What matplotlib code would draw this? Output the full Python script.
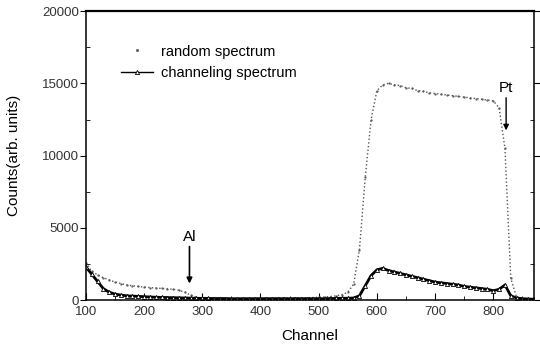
import numpy as np
import matplotlib
matplotlib.use('Agg')
import matplotlib.pyplot as plt
from matplotlib.ticker import MultipleLocator
from matplotlib.lines import Line2D

plt.rcParams['font.family'] = ['Liberation Sans', 'DejaVu Sans']

channel = list(range(100, 880, 10))

random_counts = [2600, 2000, 1750, 1550, 1400, 1250, 1150, 1050, 1000, 950,
                 900, 870, 840, 810, 780, 750, 680, 550, 350, 180,
                 120, 110, 100, 100, 100, 100, 110, 110, 110, 120,
                 120, 130, 130, 140, 140, 150, 150, 160, 170, 180,
                 200, 220, 250, 300, 380, 550, 1100, 3500, 8500, 12500,
                 14500, 14900, 15000, 14900, 14850, 14700, 14650, 14500, 14450, 14350,
                 14300, 14250, 14200, 14150, 14100, 14050, 14000, 13950, 13900, 13850,
                 13800, 13300, 10500, 1500, 200, 100, 80, 60]

channeling_counts = [2300, 1800, 1300, 800, 550, 420, 350, 300, 280, 260,
                     240, 220, 200, 190, 180, 170, 160, 150, 140, 130,
                     120, 120, 110, 110, 110, 100, 100, 100, 100, 100,
                     100, 100, 100, 100, 100, 100, 100, 100, 100, 100,
                     100, 100, 110, 120, 130, 130, 150, 300, 1000, 1700,
                     2100, 2200, 2050, 1950, 1850, 1750, 1650, 1550, 1450, 1350,
                     1250, 1200, 1150, 1100, 1050, 950, 900, 850, 800, 750,
                     650, 750, 1050, 300, 150, 100, 80, 60]

fig = plt.figure(figsize=(5.4, 3.49), dpi=100)
ax = fig.add_axes([0.159, 0.140, 0.830, 0.828])

ax.plot(channel, random_counts, linestyle=':', color='#555555', lw=1.0,
        marker='.', markersize=1.2)
ax.plot(channel, channeling_counts, linestyle='-', color='black', lw=2.0,
        marker='^', markersize=3, markerfacecolor='white', markeredgewidth=0.6)

ax.set_xlim(100, 870)
ax.set_ylim(0, 20000)
ax.xaxis.set_major_locator(MultipleLocator(100))
ax.xaxis.set_minor_locator(MultipleLocator(50))
ax.yaxis.set_major_locator(MultipleLocator(5000))
ax.yaxis.set_minor_locator(MultipleLocator(2500))
ax.tick_params(which='major', direction='out', length=4, labelsize=9.5,
               labelcolor='#333333', pad=1)
ax.tick_params(which='minor', direction='in', length=3)
ax.tick_params(axis='y', which='both', right=True)
ax.tick_params(axis='x', which='major', direction='in', length=5, pad=4)

for s in ax.spines.values():
    s.set_linewidth(1.1)
ax.spines['top'].set_linewidth(1.6)

ax.set_xlabel('Channel', fontsize=11, labelpad=8)
ax.set_ylabel('Counts(arb. units)', fontsize=11, labelpad=15)

handles = [Line2D([], [], linestyle='none', color='#666666', marker='.', markersize=2.5),
           Line2D([], [], linestyle='-', color='black', lw=1.0, marker='^',
                  markersize=3, markerfacecolor='white', markeredgewidth=0.6)]
ax.legend(handles, ['random spectrum', 'channeling spectrum'],
          loc='upper left', bbox_to_anchor=(0.05, 0.93), frameon=False,
          fontsize=10.5, handlelength=2.2, handletextpad=0.5, labelspacing=0.5,
          numpoints=1)

ax.annotate('Al', xy=(278, 1150), xytext=(278, 3900), ha='center', va='bottom',
            fontsize=11,
            arrowprops=dict(arrowstyle='-|>', color='black', lw=1.2,
                            mutation_scale=8, shrinkA=0, shrinkB=0))
ax.annotate('Pt', xy=(822, 11750), xytext=(822, 14200), ha='center', va='bottom',
            fontsize=11,
            arrowprops=dict(arrowstyle='-|>', color='black', lw=1.0,
                            mutation_scale=8, shrinkA=0, shrinkB=0))

fig.savefig('out.png', dpi=100)
